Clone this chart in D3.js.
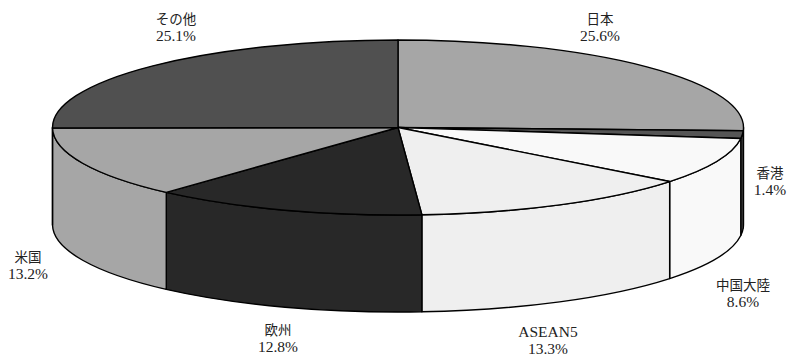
<!DOCTYPE html>
<html>
<head>
<meta charset="utf-8">
<script src="https://cdn.jsdelivr.net/npm/d3@7"></script>
<style>
  html, body { margin: 0; padding: 0; background: #fff; }
  svg { display: block; }
  text { font-family: "Liberation Serif", serif; font-size: 15.5px; fill: #222; }
  tspan.cjk { font-family: "Noto Sans CJK JP", sans-serif; font-size: 13.5px; }
</style>
</head>
<body>
<script>
// Share by region (%), clockwise from 12 o'clock
const categories = ["日本", "香港", "中国大陸", "ASEAN5", "欧州", "米国", "その他"];
const shares = [25.6, 1.4, 8.6, 13.3, 12.8, 13.2, 25.1];
const palette = ["#a6a6a6", "#555555", "#f9f9f9", "#efefef", "#282828", "#a6a6a6", "#505050"];

// Label anchor points (centre of the two-line label block)
const labelAnchors = [[600, 27], [770, 181], [743, 293], [548, 340], [278, 338], [28, 265], [176, 27]];

const W = 788, H = 356;
const cx = 398, cy = 127.5, rx = 345.5, ry = 87.5, depth = 97;

const svg = d3.select("body").append("svg").attr("width", W).attr("height", H);

const color = d3.scaleOrdinal().domain(categories).range(palette);
const pie = d3.pie().sort(null).value(d => d.value);
const arcs = pie(categories.map((c, i) => ({ name: c, value: shares[i] })));

// point on the projected ellipse for angle a (radians, clockwise from top)
const pt = (a, dy = 0) => [cx + rx * Math.sin(a), cy - ry * Math.cos(a) + dy];
const fmt = p => p[0].toFixed(2) + "," + p[1].toFixed(2);

// Outer walls: only the front half (90°..270°) faces the viewer
const front0 = Math.PI / 2, front1 = 3 * Math.PI / 2;
const walls = arcs.map(d => {
  const a0 = Math.max(d.startAngle, front0), a1 = Math.min(d.endAngle, front1);
  if (a1 <= a0) return null;
  const p0 = pt(a0), p1 = pt(a1), q1 = pt(a1, depth), q0 = pt(a0, depth);
  return {
    d: d,
    path: `M${fmt(p0)}A${rx},${ry} 0 0 1 ${fmt(p1)}L${fmt(q1)}A${rx},${ry} 0 0 0 ${fmt(q0)}Z`
  };
}).filter(Boolean);

svg.append("g").selectAll("path").data(walls).join("path")
  .attr("d", w => w.path)
  .attr("fill", w => color(w.d.data.name))
  .attr("stroke", "#000")
  .attr("stroke-width", 1.4)
  .attr("stroke-linejoin", "round");

// Top face sectors
svg.append("g").selectAll("path").data(arcs).join("path")
  .attr("d", d => {
    const large = (d.endAngle - d.startAngle) > Math.PI ? 1 : 0;
    return `M${cx},${cy}L${fmt(pt(d.startAngle))}A${rx},${ry} 0 ${large} 1 ${fmt(pt(d.endAngle))}Z`;
  })
  .attr("fill", d => color(d.data.name))
  .attr("stroke", "#000")
  .attr("stroke-width", 1.4)
  .attr("stroke-linejoin", "round");

// Labels: name and percentage
const isCJK = s => /[\u3040-\u30ff\u4e00-\u9fff]/.test(s);
const lab = svg.append("g").selectAll("text").data(arcs).join("text")
  .attr("text-anchor", "middle")
  .attr("transform", (d, i) => `translate(${labelAnchors[i][0]},${labelAnchors[i][1]})`);
lab.append("tspan").attr("x", 0).attr("y", -3)
  .attr("class", d => isCJK(d.data.name) ? "cjk" : null)
  .text(d => d.data.name);
lab.append("tspan").attr("x", 0).attr("y", 14).text(d => d3.format(".1f")(d.data.value) + "%");
</script>
</body>
</html>
